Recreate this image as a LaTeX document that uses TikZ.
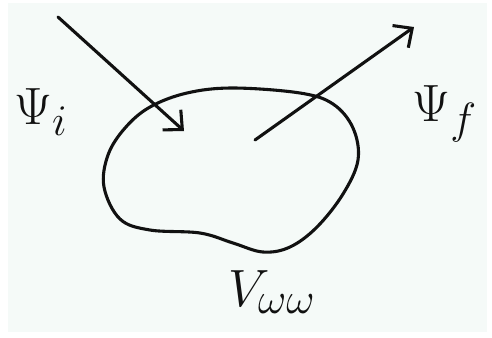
\documentclass[tikz,border=0pt]{standalone}
\usepackage{xcolor}
\definecolor{Paper}{HTML}{F5FAF8}
\definecolor{Ink}{HTML}{111111}
\usepackage{tikz}
\usetikzlibrary{arrows.meta}

\begin{document}
\begin{tikzpicture}[
    x=0.025cm, y=-0.025cm,
    >={Straight Barb[length=3.6mm,width=6.8mm,line width=2.2pt]},
    pen/.style={line width=2.2pt,Ink,line cap=round,line join=round},
    lbl/.style={font=\Huge,scale=1.5,text=Ink,inner sep=0pt},
  ]
  % ---------- paper ----------
  \useasboundingbox (0,0) rectangle (492,337);
  \fill[Paper] (8,3) rectangle (487,332);

  % ---------- the potential region ----------
  \draw[pen] plot[smooth cycle,tension=0.6] coordinates {
      (150,107) (187,93) (233,88) (300,93) (333,104) (353,128)
      (358,160) (343,194) (317,227) (290,247) (263,252) (233,243)
      (200,233) (150,230) (120,219) (104,187) (108,155) (125,128)};

  % ---------- incoming and outgoing waves ----------
  \coordinate (inStart) at (58,17);
  \coordinate (inEnd)   at (184,131);
  \coordinate (outStart) at (255,140);
  \coordinate (outEnd)   at (414,27);
  \draw[pen,->] (inStart) -- (inEnd);
  \draw[pen,->] (outStart) -- (outEnd);

  % ---------- labels ----------
  \node[lbl] (psiI) at (41,112)  {$\Psi_i$};
  \node[lbl] (psiF) at (445,114) {$\Psi_f$};
  \node[lbl] (vLabel) at (272,292) {$V_{\omega\omega}$};
\end{tikzpicture}
\end{document}
